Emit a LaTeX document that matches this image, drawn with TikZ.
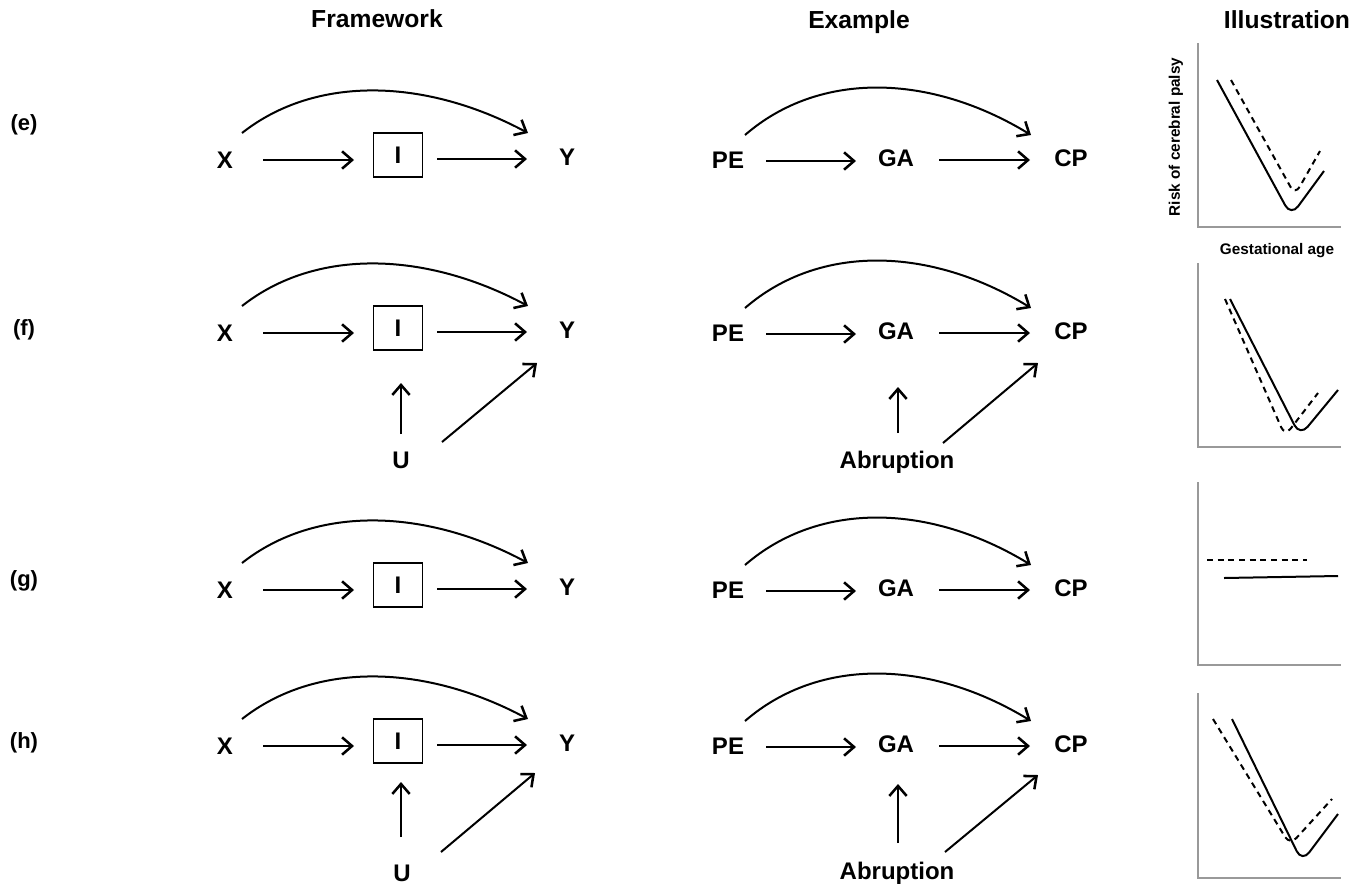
\documentclass[tikz,border=0pt]{standalone}
\usepackage{fontspec}
\setmainfont{Liberation Sans}
\usetikzlibrary{arrows.meta,calc}
\tikzset{
  lbl/.style={font=\bfseries\fontsize{18}{20}\selectfont, inner sep=0pt},
  rowlbl/.style={font=\bfseries\fontsize{16.5}{18}\selectfont, inner sep=0pt},
  hdr/.style={font=\bfseries\fontsize{18.5}{20}\selectfont, inner sep=0pt},
  axlbl/.style={font=\bfseries\fontsize{11.5}{13}\selectfont, inner sep=0pt},
  ibox/.style={draw, line width=1.1pt, minimum width=36.75pt, minimum height=33pt, inner sep=0pt, font=\bfseries\fontsize{18}{20}\selectfont},
  arr/.style={line width=1.5pt, -{Straight Barb[length=7.5pt,width=13pt,line width=1.9pt]}},
  axis/.style={draw=black!40, line width=1.1pt},
  solidc/.style={line width=1.5pt, rounded corners=9pt},
  dashc/.style={line width=1.5pt, dash pattern=on 4.5pt off 3.5pt, rounded corners=7pt},
}
\newcommand{\fwrow}[3]{%
  \node[lbl] (X#1) at (225,#2) {X};
  \node[ibox] (I#1) at (398,#2-5) {I};
  \node[lbl] (Y#1) at (567,#2-3) {Y};
  \node[lbl] (PE#1) at (728,#2) {PE};
  \node[lbl] (GA#1) at (896,#2-2) {GA};
  \node[lbl] (CP#1) at (1071,#2-2) {CP};
  \node[rowlbl] (L#1) at (24,#3) {(#1)};
  \draw[arr] ($(X#1)+(38,0)$) -- ($(I#1)+(-44,5)$);
  \draw[arr] ($(I#1)+(39,4)$) -- ($(Y#1)+(-40,2)$);
  \draw[arr] ($(X#1)+(17,-27)$) .. controls ($(X#1)+(92,-86)$) and ($(Y#1)+(-140,-78)$) .. ($(Y#1)+(-39,-24)$);
  \draw[arr] ($(PE#1)+(38,1)$) -- ($(GA#1)+(-40,3)$);
  \draw[arr] ($(GA#1)+(43,2)$) -- ($(CP#1)+(-41,2)$);
  \draw[arr] ($(PE#1)+(17,-25)$) .. controls ($(PE#1)+(92,-90)$) and ($(CP#1)+(-140,-84)$) .. ($(CP#1)+(-40,-23)$);
}
\begin{document}
\begin{tikzpicture}[x=0.75pt,y=-0.75pt]
\fill[white] (0,0) rectangle (1372,890);
\useasboundingbox (0,0) rectangle (1372,890);
% headers
\node[hdr] (hF) at (377,19) {Framework};
\node[hdr] (hE) at (859,22) {Example};
\node[hdr] (hI) at (1287,20) {Illustration};
% rows
\fwrow{e}{160}{125}
\fwrow{f}{333}{330}
\fwrow{g}{590}{581}
\fwrow{h}{746}{743}
% row f extra
\node[lbl] (Uf) at (401,460) {U};
\draw[arr] ($(Uf)+(0,-26)$) -- ($(If)+(3,55)$);
\draw[arr] ($(Uf)+(41,-18)$) -- ($(Yf)+(-30,33)$);
\node[lbl] (Af) at (897,462) {Abruption};
\draw[arr] ($(Af)+(1,-29)$) -- ($(GAf)+(2,56)$);
\draw[arr] ($(Af)+(46,-19)$) -- ($(CPf)+(-33,32)$);
% row h extra
\node[lbl] (Uh) at (402,873) {U};
\draw[arr] ($(Uh)+(-1,-36)$) -- ($(Ih)+(3,41)$);
\draw[arr] ($(Uh)+(39,-21)$) -- ($(Yh)+(-32,30)$);
\node[lbl] (Ah) at (897,873) {Abruption};
\draw[arr] ($(Ah)+(1,-30)$) -- ($(GAh)+(2,40)$);
\draw[arr] ($(Ah)+(48,-21)$) -- ($(CPh)+(-33,31)$);
% illustration axis labels
\node[axlbl, rotate=90] (ry) at (1176,137) {Risk of cerebral palsy};
\node[axlbl] (gx) at (1277,251) {Gestational age};
% panel e
\draw[axis] (1198,43) -- (1198,227) -- (1341,227);
\draw[solidc] (1217,80) -- (1291,216) -- (1324,171);
\draw[dashc] (1231,80) -- (1295,195) -- (1320,151);
% panel f
\draw[axis] (1198,263) -- (1198,447) -- (1341,447);
\draw[solidc] (1230,299) -- (1300,436) -- (1338,390);
\draw[dashc] (1225,299) -- (1285,436) -- (1318,393);
% panel g
\draw[axis] (1198,482) -- (1198,665) -- (1341,665);
\draw[line width=1.5pt] (1224,578) -- (1338,576);
\draw[line width=1.5pt, dash pattern=on 4.5pt off 3.5pt] (1207,560) -- (1307,560);
% panel h
\draw[axis] (1198,693) -- (1198,878) -- (1341,878);
\draw[solidc] (1232,719) -- (1302,862) -- (1338,814);
\draw[dashc] (1213,719) -- (1290,845) -- (1332,799);
\end{tikzpicture}
\end{document}
